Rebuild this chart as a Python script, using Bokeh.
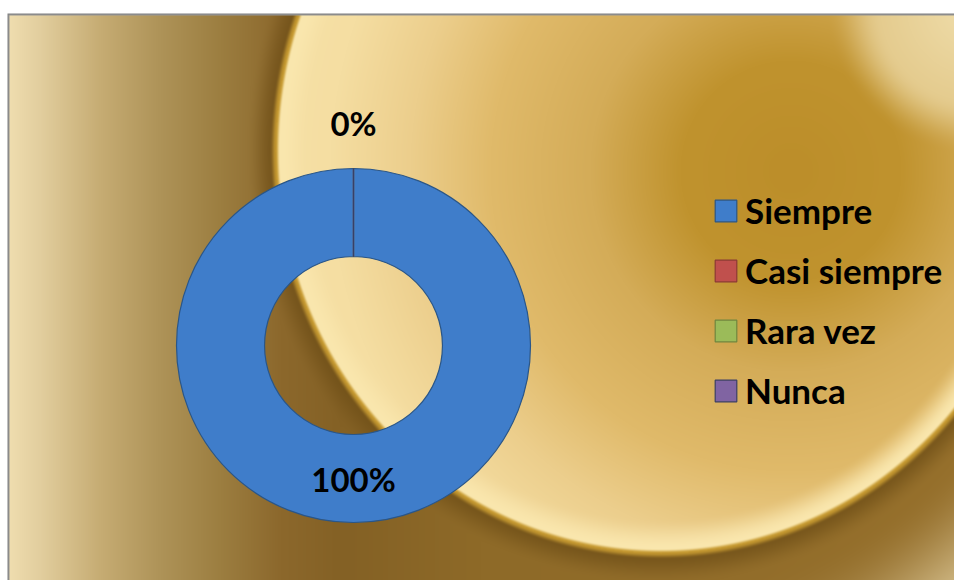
import numpy as np
import pandas as pd
from bokeh.plotting import figure
from bokeh.models import ColumnDataSource, Range1d, Legend, LegendItem
from bokeh.core.properties import value
from bokeh.embed import file_html
from bokeh.resources import INLINE

# ---------------- data ----------------
categories = ["Siempre", "Casi siempre", "Rara vez", "Nunca"]
values = [100, 0, 0, 0]
fill_colors = ["#3f7dca", "#c0504d", "#9bbb59", "#8064a2"]
line_colors = ["#2a5688", "#8c3836", "#6f873f", "#3a3f66"]

W, H = 954, 580

# ---------------- background (decorative gold gradient) ----------------
def sstep(e0, e1, x):
    t = np.clip((x - e0) / (e1 - e0), 0.0, 1.0)
    return t * t * (3 - 2 * t)

def ramp(x, stops, cols):
    cols = np.array(cols, dtype=float)
    return np.stack([np.interp(x, stops, cols[:, k]) for k in range(3)], axis=-1)

def mix(a, b, w):
    return a + (np.asarray(b, dtype=float) - a) * w[..., None]

yy, xx = np.mgrid[0:H, 0:W].astype(float)

# big disc
cx0, cy0, ea, eb = 660.0, 150.0, 385.0, 402.0
rho = np.sqrt(((xx - cx0) / ea) ** 2 + ((yy - cy0) / eb) ** 2)
s = (1.0 - rho) * 390.0  # signed distance, >0 inside

# outside colour (mainly horizontal)
out = ramp(xx, [7, 40, 100, 160, 220, 280, 340, 480, 954],
           [(240, 222, 176), (226, 206, 158), (198, 172, 115), (174, 147, 88),
            (156, 126, 64), (140, 104, 44), (132, 97, 37), (142, 106, 40), (150, 112, 44)])
out = mix(out, (222, 202, 154), sstep(30, 170, -s) * sstep(640, 954, xx))
out = mix(out, (112, 80, 24), (1 - sstep(0, 30, -s)) * 0.8)
out = mix(out, (194, 150, 48), 1 - sstep(0, 6, -s))

# inside colour
dC = np.sqrt((xx - 790) ** 2 + (yy - 170) ** 2)
ins = ramp(dC, [0, 110, 200, 300, 380, 460, 600],
           [(188, 142, 42), (192, 147, 46), (212, 172, 88), (224, 186, 106),
            (236, 206, 140), (245, 222, 162), (248, 229, 172)])
# soft lighter disc in the top-right corner
dB = np.sqrt((xx - 975) ** 2 + (yy - 5) ** 2)
blob = ramp(dB, [0, 140], [(240, 222, 172), (224, 196, 130)])
wb = 1 - sstep(95, 150, dB)
ins = ins + (blob - ins) * wb[..., None]
ins = mix(ins, (250, 231, 174), 1 - sstep(3, 34, s))
ins = mix(ins, (200, 156, 52), 1 - sstep(0, 4, s))

rgb = np.where((s >= 0)[..., None], ins, out)

# white margin + grey frame
rgb[:, :7] = 255
rgb[:13, :] = 255
rgb[13:, 7] = 128
rgb[13:, 8] = 150
rgb[13, 7:] = 128
rgb[14, 8:] = 150

rgba = np.empty((H, W, 4), dtype=np.uint8)
rgba[..., :3] = np.clip(rgb, 0, 255).astype(np.uint8)
rgba[..., 3] = 255
img = np.flipud(rgba).copy().view(dtype=np.uint32).reshape(H, W)

# ---------------- donut geometry ----------------
cx, cy = 353.0, 235.0
r_in, r_out = 89.0, 177.0

vals = np.array(values, dtype=float)
frac = vals / vals.sum()
cum_after = np.cumsum(frac)
cum_before = cum_after - frac
# a zero share is drawn as a hairline slice (its border only)
draw_frac = np.maximum(frac, 1e-5)
start = np.pi / 2 - 2 * np.pi * cum_before
end = start - 2 * np.pi * draw_frac
mid = np.pi / 2 - 2 * np.pi * (cum_before + frac / 2)

df = pd.DataFrame(dict(cat=categories, val=vals, start=start, end=end,
                       fill=fill_colors, line=line_colors))
src = ColumnDataSource(df)

lab_r = np.where(frac > 0, (r_in + r_out) / 2, r_out + 46)
labels = pd.DataFrame(dict(
    x=cx + lab_r * np.cos(mid),
    y=cy + lab_r * np.sin(mid),
    text=[f"{v:.0f}%" for v in frac * 100]))
labels = labels.round(3).drop_duplicates(subset=["x", "y"])

# ---------------- figure ----------------
p = figure(width=W, height=H, x_range=Range1d(0, W), y_range=Range1d(0, H),
           output_backend="svg", toolbar_location=None, min_border=0,
           x_axis_type=None, y_axis_type=None, outline_line_color=None)
p.grid.visible = False
p.background_fill_color = "white"
p.border_fill_color = "white"

p.image_rgba(image=[img], x=0, y=0, dw=W, dh=H)

wedges = p.annular_wedge(x=cx, y=cy, inner_radius=r_in, outer_radius=r_out,
                         start_angle="start", end_angle="end", direction="clock",
                         fill_color="fill", line_color="line", line_width=1.2,
                         source=src)

p.text(x="x", y="y", text="text", source=ColumnDataSource(labels),
       text_font=value("Lato"), text_font_style="bold", text_font_size="33px",
       text_color="black", text_align="center", text_baseline="middle")

legend = Legend(items=[LegendItem(label=c, renderers=[wedges], index=i)
                       for i, c in enumerate(categories)],
                location=(712, 169), orientation="vertical",
                glyph_width=27, glyph_height=27, label_standoff=6,
                label_text_font="Lato", label_text_font_style="bold",
                label_text_font_size="35px", label_text_color="black",
                spacing=18, padding=0, margin=0,
                background_fill_alpha=0, border_line_color=None)
p.add_layout(legend)

open("out.html", "w").write(file_html(p, INLINE))
